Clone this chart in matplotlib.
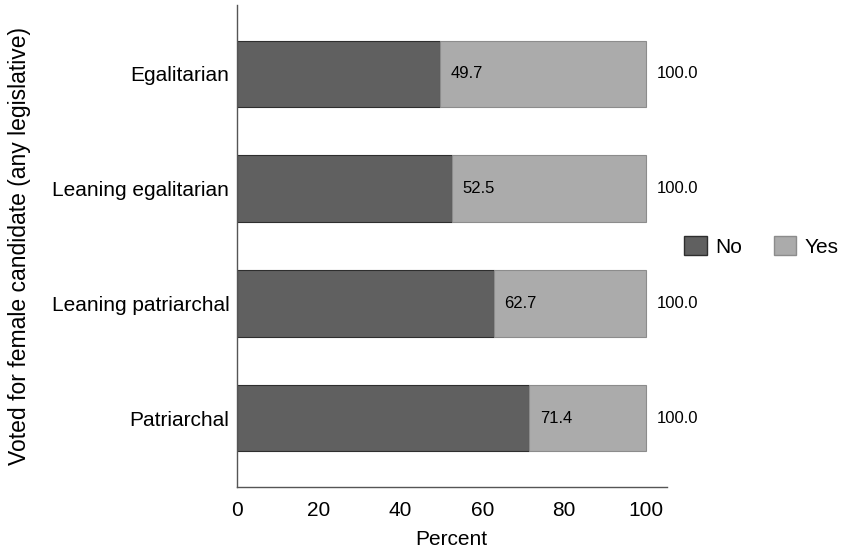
import matplotlib
matplotlib.use("Agg")
import matplotlib.pyplot as plt
from matplotlib.patches import Patch

plt.rcParams['font.family'] = ['Liberation Sans', 'DejaVu Sans']

# data (top to bottom)
categories = ['Egalitarian', 'Leaning egalitarian', 'Leaning patriarchal', 'Patriarchal']
no_pct = [49.7, 52.5, 62.7, 71.4]
totals = [100.0, 100.0, 100.0, 100.0]
yes_pct = [t - n for t, n in zip(totals, no_pct)]

col_no = '#606060'
col_yes = '#ababab'

fig = plt.figure(figsize=(8.44, 5.5), dpi=100)
ax = fig.add_axes([0.2808, 0.1145, 0.509, 0.8765])

ypos = list(range(len(categories)))
ax.barh(ypos, no_pct, height=0.58, color=col_no, edgecolor='#2e2e2e', linewidth=0.8)
ax.barh(ypos, yes_pct, left=no_pct, height=0.58, color=col_yes, edgecolor='#8c8c8c', linewidth=0.8)

for y, n, t in zip(ypos, no_pct, totals):
    ax.text(n + 2.6, y, f'{n:.1f}', va='center', ha='left', fontsize=12, color='black')
    ax.text(t + 2.6, y, f'{t:.1f}', va='center', ha='left', fontsize=12, color='black')

ax.set_xlim(0, 105)
ax.set_ylim(3.6, -0.6)
ax.set_yticks(ypos)
ax.set_yticklabels(categories, fontsize=15)
ax.set_xticks([0, 20, 40, 60, 80, 100])
ax.tick_params(axis='x', labelsize=15, length=0, pad=10)
ax.tick_params(axis='y', length=0, pad=5.5)
ax.set_xlabel('Percent', fontsize=15, labelpad=7)
ax.set_ylabel('Voted for female candidate (any legislative)', fontsize=16.5, labelpad=15)

for s in ['top', 'right']:
    ax.spines[s].set_visible(False)
for s in ['left', 'bottom']:
    ax.spines[s].set_color('#555555')
    ax.spines[s].set_linewidth(1.0)

handles = [Patch(facecolor=col_no, edgecolor='#2e2e2e', label='No'),
           Patch(facecolor=col_yes, edgecolor='#8c8c8c', label='Yes')]
fig.legend(handles=handles, loc='center left', bbox_to_anchor=(0.811, 0.552), ncol=2,
           frameon=False, fontsize=15, handlelength=1.06, handleheight=1.06,
           handletextpad=0.43, columnspacing=1.5, borderaxespad=0, borderpad=0)

fig.savefig('out.png', dpi=100)
